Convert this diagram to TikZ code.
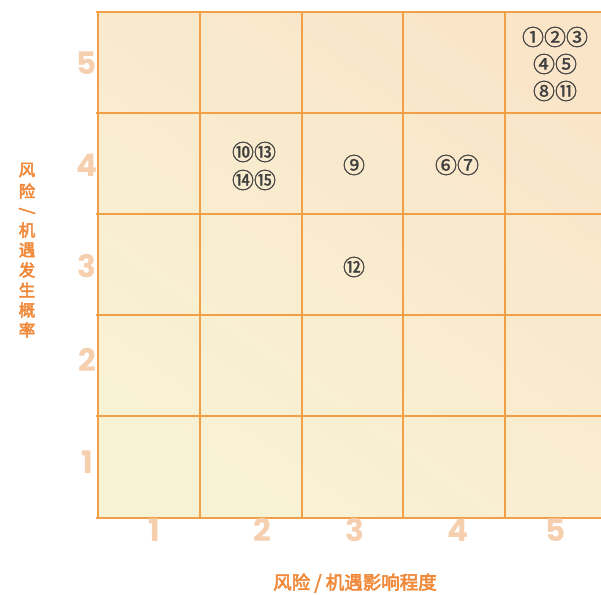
\documentclass[tikz,border=0pt]{standalone}
\usepackage{fontspec}
\newfontfamily\cjk{Noto Sans CJK SC}[FakeBold=1.2]
\newfontfamily\cjkb{Noto Sans CJK SC}[FakeBold=3]
\newfontfamily\numfont{Poppins Bold}
\definecolor{gridc}{HTML}{F2A048}
\definecolor{fillA}{HTML}{FAE5C9}
\definecolor{fillB}{HTML}{F8F2D4}
\definecolor{axnum}{HTML}{F6CFAE}
\definecolor{titc}{HTML}{F08A3A}
\definecolor{markc}{HTML}{404040}
\tikzset{
  axisnum/.style={font=\numfont\fontsize{31}{31}\selectfont, text=axnum, inner sep=0pt},
  riskmark/.style={font=\cjk\fontsize{22}{22}\selectfont, text=markc, inner sep=0pt},
  ytit/.style={font=\cjkb\fontsize{16.5}{16.5}\selectfont, text=titc, inner sep=0pt},
  gridline/.style={draw=gridc, line width=2.4pt}
}
\begin{document}
\begin{tikzpicture}[x=1pt,y=-1pt]
\useasboundingbox (0,0) rectangle (601,594);
\fill[white] (0,0) rectangle (601,594);
\begin{scope}
\clip (0,0) rectangle (601,594);
\shade[shading=axis, top color=fillA, bottom color=fillB, shading angle=-35] (98,12) rectangle (620,518);
\foreach \xx in {98,200,302,403,505} \draw[gridline] (\xx,12) -- (\xx,518);
\foreach \yy in {12,113,214,315,416,518} \draw[gridline] (96,\yy) -- (620,\yy);
\end{scope}
% axis numbers
\node[axisnum] (y5) at (87,63) {5};
\node[axisnum] (y4) at (87,165) {4};
\node[axisnum] (y3) at (87,266) {3};
\node[axisnum] (y2) at (87,360) {2};
\node[axisnum] (y1) at (87,462) {1};
\node[axisnum] (x1) at (154,530) {1};
\node[axisnum] (x2) at (262,530) {2};
\node[axisnum] (x3) at (355,530) {3};
\node[axisnum] (x4) at (458,530) {4};
\node[axisnum] (x5) at (556,530) {5};
% titles
\node[ytit] (t1) at (27,170) {风};
\node[ytit] (t2) at (27,191) {险};
\node[ytit] (t3) at (27,211) {\rotatebox{-90}{/}};
\node[ytit] (t4) at (27,230) {机};
\node[ytit] (t5) at (27,250) {遇};
\node[ytit] (t6) at (27,270) {发};
\node[ytit] (t7) at (27,290) {生};
\node[ytit] (t8) at (27,310) {概};
\node[ytit] (t9) at (27,330) {率};
\node[font=\cjkb\fontsize{18.5}{18.5}\selectfont, text=titc, inner sep=0pt] (xt) at (355,583) {风险 / 机遇影响程度};
% markers
\node[riskmark] (m123) at (555,37) {①②③};
\node[riskmark] (m45) at (555,64) {④⑤};
\node[riskmark] (m811) at (555,91) {⑧⑪};
\node[riskmark] (m1013) at (254,152) {⑩⑬};
\node[riskmark] (m1415) at (254,180) {⑭⑮};
\node[riskmark] (m9) at (354,165) {⑨};
\node[riskmark] (m67) at (457,165) {⑥⑦};
\node[riskmark] (m12) at (354,267) {⑫};
\end{tikzpicture}
\end{document}
